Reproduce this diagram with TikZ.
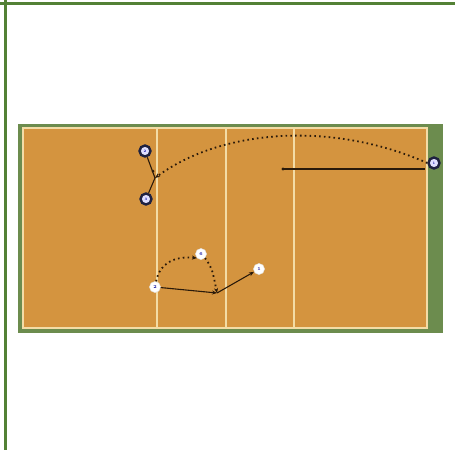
\documentclass[tikz,border=0pt]{standalone}
\usetikzlibrary{arrows.meta}
\definecolor{framegreen}{HTML}{538135}
\definecolor{surround}{HTML}{6C8C4E}
\definecolor{courtorange}{HTML}{D4943F}
\definecolor{courtline}{HTML}{F3DCA6}
\definecolor{navy}{HTML}{1E2140}
\definecolor{ink}{HTML}{2A1A0A}
\tikzset{
  frameline/.style={framegreen, line width=3pt},
  cline/.style={courtline, line width=2pt},
  darkplayer/.style={circle, draw=navy, line width=2.4pt, fill=blue!12!white, minimum size=11pt, inner sep=0pt, font=\fontsize{3.5}{3.5}\selectfont\bfseries, text=blue!60!black},
  whiteplayer/.style={circle, fill=white, draw=white!80!gray, line width=0.5pt, minimum size=11pt, inner sep=0pt, font=\fontsize{4.5}{4.5}\selectfont\bfseries, text=blue!60!black},
  runline/.style={ink, line width=1.1pt, -{Stealth[length=5pt,width=4pt]}},
  plainline/.style={ink, line width=1.1pt},
  ballpath/.style={ink, line width=1.8pt, dash pattern=on 1.6pt off 3.2pt, -{Stealth[length=5pt,width=4pt]}},
}
\begin{document}
\begin{tikzpicture}[x=1pt,y=-1pt]
\useasboundingbox (0,0) rectangle (455,450);
% frame lines
\draw[frameline] (0,3) -- (455,3);
\draw[frameline] (5,0) -- (5,450);
% court
\fill[surround] (18,124) rectangle (443,333);
\fill[courtorange] (23,128) rectangle (427,328);
\draw[cline] (23,128) rectangle (427,328);
\draw[cline] (157,128) -- (157,328);
\draw[cline] (226,128) -- (226,328);
\draw[cline] (294,128) -- (294,328);
% junction points
\coordinate (j1) at (155,178);
\coordinate (j2) at (217,293);
\coordinate (s1) at (283,169);
\coordinate (e1) at (425,169);
% players
\node[darkplayer] (pa) at (145,151) {2};
\node[darkplayer] (pb) at (146,199) {3};
\node[darkplayer] (pc) at (434,163) {1};
\node[whiteplayer] (pd) at (155,287) {2};
\node[whiteplayer] (pe) at (201,254) {6};
\node[whiteplayer] (pf) at (259,269) {1};
% bottom ball path
\draw[ballpath] (pd) .. controls (160,262) and (176,256) .. (pe.south west);
\draw[ballpath] (pe.south east) .. controls (212,268) .. (j2);
% top-left movements
\draw[plainline] (pa) -- (j1);
\draw[plainline] (pb) -- (j1);
\fill[ink] (153,171) circle (1.5pt);
% ball path from right
\draw[ballpath] (pc.west) .. controls (330,120) and (220,130) .. (j1);
% horizontal solid line
\fill[ink] (s1) circle (1.6pt);
\draw[plainline] (s1) -- (e1);
% bottom movements
\draw[runline] (pd) -- (j2);
\draw[runline] (j2) -- (pf);
\end{tikzpicture}
\end{document}
